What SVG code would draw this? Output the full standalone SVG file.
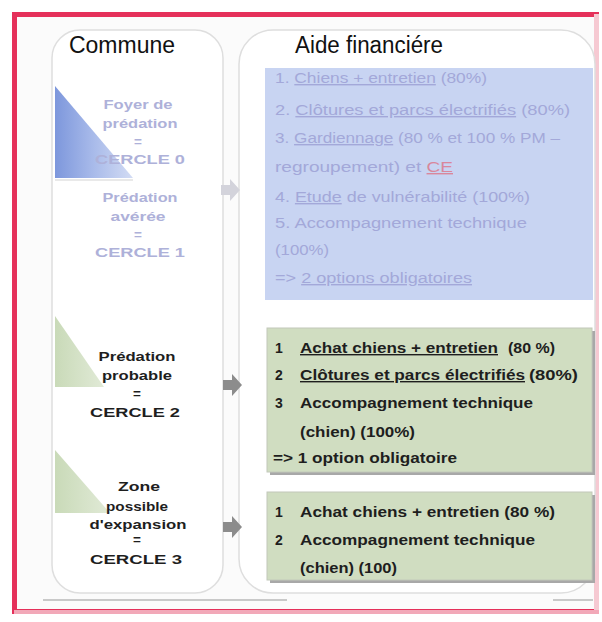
<svg xmlns="http://www.w3.org/2000/svg" width="602" height="622" viewBox="0 0 602 622">
<defs>
  <linearGradient id="gBlue" x1="0" y1="0" x2="1" y2="0">
    <stop offset="0" stop-color="#7d97dc"/>
    <stop offset="0.5" stop-color="#a9bbea"/>
    <stop offset="1" stop-color="#d3dcf4"/>
  </linearGradient>
  <linearGradient id="gGreen" x1="0" y1="0" x2="1" y2="0">
    <stop offset="0" stop-color="#c9dab8"/>
    <stop offset="1" stop-color="#e1ead7"/>
  </linearGradient>
  <path id="arr" d="M0,-5 H9 V-11 L19,0 L9,11 V5 H0 Z"/>
</defs>
<style>
  text{font-family:"Liberation Sans",Arial,sans-serif}
  .title{font-size:23px;fill:#111111}
  .g{font-size:14px;font-weight:bold;fill:#1e1e1e}
  .c{font-size:13.5px;font-weight:bold;fill:#1e1e1e;text-anchor:middle}
  .f{font-size:13.5px;font-weight:bold;fill:#aeb1d9;text-anchor:middle}
  .b{font-size:14px;fill:#a3a8d9}
  .u{text-decoration:underline}
  .panel{fill:#ffffff;stroke:#dedede;stroke-width:1.5}
  .shadow{fill:#a8a8a8}
  .gbox{fill:#d0ddc1;stroke:#c2c8ba;stroke-width:1}
</style>
<rect x="0" y="0" width="602" height="622" fill="#ffffff"/>
<!-- red frame -->
<rect x="14.5" y="14.5" width="582" height="597" fill="#fbfbfb" stroke="#e5305a" stroke-width="5"/>
<rect x="594" y="14" width="5" height="600" fill="#f6c9d2"/>
<rect x="14" y="610" width="585" height="4" fill="#f2a8b8"/>

<!-- panels -->
<g id="panel-commune">
  <rect class="panel" x="52" y="30" width="171" height="563" rx="28"/>
  <text class="title" x="122" y="53" text-anchor="middle" textLength="106" lengthAdjust="spacingAndGlyphs">Commune</text>
</g>
<g id="panel-aide">
  <rect class="panel" x="239" y="30" width="356" height="563" rx="34"/>
  <text class="title" x="369" y="53" text-anchor="middle" textLength="148" lengthAdjust="spacingAndGlyphs">Aide financiére</text>
</g>
<line x1="43" y1="600" x2="287" y2="600" stroke="#b9b9b9" stroke-width="1.5"/>
<line x1="553" y1="600" x2="593" y2="600" stroke="#b9b9b9" stroke-width="1.5"/>

<!-- cercle 0 / 1 -->
<g id="cercle01">
  <polygon points="55,86 55,178 133,178" fill="url(#gBlue)"/>
  <line x1="55" y1="180" x2="133" y2="180" stroke="#e2e2e2" stroke-width="1.5"/>
  <text class="f" x="138" y="109" textLength="69" lengthAdjust="spacingAndGlyphs">Foyer de</text>
  <text class="f" x="140" y="128" textLength="75" lengthAdjust="spacingAndGlyphs">prédation</text>
  <text class="f" x="138" y="146">=</text>
  <text class="f" x="140" y="164" textLength="90" lengthAdjust="spacingAndGlyphs">CERCLE 0</text>
  <text class="f" x="140" y="202" textLength="75" lengthAdjust="spacingAndGlyphs">Prédation</text>
  <text class="f" x="138" y="221" textLength="55" lengthAdjust="spacingAndGlyphs">avérée</text>
  <text class="f" x="138" y="239">=</text>
  <text class="f" x="140" y="257" textLength="90" lengthAdjust="spacingAndGlyphs">CERCLE 1</text>
</g>

<!-- cercle 2 -->
<g id="cercle2">
  <polygon points="55,316 55,387 104,387" fill="url(#gGreen)"/>
  <text class="c" x="137" y="361" textLength="77" lengthAdjust="spacingAndGlyphs">Prédation</text>
  <text class="c" x="137" y="380" textLength="70" lengthAdjust="spacingAndGlyphs">probable</text>
  <text class="c" x="137" y="398">=</text>
  <text class="c" x="135" y="417" textLength="90" lengthAdjust="spacingAndGlyphs">CERCLE 2</text>
</g>

<!-- cercle 3 -->
<g id="cercle3">
  <polygon points="55,450 55,513 110,513" fill="url(#gGreen)"/>
  <text class="c" x="139" y="491" textLength="42" lengthAdjust="spacingAndGlyphs">Zone</text>
  <text class="c" x="137" y="511" textLength="62" lengthAdjust="spacingAndGlyphs">possible</text>
  <text class="c" x="138" y="529" textLength="97" lengthAdjust="spacingAndGlyphs">d'expansion</text>
  <text class="c" x="137" y="544">=</text>
  <text class="c" x="136" y="564" textLength="92" lengthAdjust="spacingAndGlyphs">CERCLE 3</text>
</g>

<!-- aide cercle 0/1 -->
<g id="aide01">
  <rect x="265" y="68" width="328" height="232" fill="#c8d4f2"/>
  <text class="b" x="275" y="83" textLength="212" lengthAdjust="spacingAndGlyphs">1. <tspan class="u">Chiens + entretien</tspan> (80%)</text>
  <text class="b" x="275" y="115" textLength="295" lengthAdjust="spacingAndGlyphs">2. <tspan class="u">Clôtures et parcs électrifiés</tspan> (80%)</text>
  <text class="b" x="275" y="143" textLength="285" lengthAdjust="spacingAndGlyphs">3. <tspan class="u">Gardiennage</tspan> (80 % et 100 % PM –</text>
  <text class="b" x="275" y="172" textLength="178" lengthAdjust="spacingAndGlyphs">regroupement) et <tspan class="u" fill="#d9879c">CE</tspan></text>
  <text class="b" x="275" y="202" textLength="255" lengthAdjust="spacingAndGlyphs">4. <tspan class="u">Etude</tspan> de vulnérabilité (100%)</text>
  <text class="b" x="275" y="228" textLength="252" lengthAdjust="spacingAndGlyphs">5. Accompagnement technique</text>
  <text class="b" x="275" y="255" textLength="54" lengthAdjust="spacingAndGlyphs">(100%)</text>
  <text class="b" x="275" y="283" textLength="197" lengthAdjust="spacingAndGlyphs">=&gt; <tspan class="u">2 options obligatoires</tspan></text>
</g>

<!-- aide cercle 2 -->
<g id="aide2">
  <rect class="shadow" x="270" y="331" width="325" height="144"/>
  <rect class="gbox" x="267" y="328" width="325" height="144"/>
  <text class="g" x="275" y="353">1</text>
  <text class="g u" x="300" y="353" textLength="198" lengthAdjust="spacingAndGlyphs">Achat chiens + entretien</text>
  <text class="g" x="508" y="353" textLength="47" lengthAdjust="spacingAndGlyphs">(80 %)</text>
  <text class="g" x="275" y="380">2</text>
  <text class="g u" x="300" y="380" textLength="225" lengthAdjust="spacingAndGlyphs">Clôtures et parcs électrifiés</text>
  <text class="g" x="529" y="380" textLength="49" lengthAdjust="spacingAndGlyphs">(80%)</text>
  <text class="g" x="275" y="408">3</text>
  <text class="g" x="300" y="408" textLength="233" lengthAdjust="spacingAndGlyphs">Accompagnement technique</text>
  <text class="g" x="300" y="437" textLength="115" lengthAdjust="spacingAndGlyphs">(chien) (100%)</text>
  <text class="g" x="273" y="463" textLength="184" lengthAdjust="spacingAndGlyphs">=&gt; 1 option obligatoire</text>
</g>

<!-- aide cercle 3 -->
<g id="aide3">
  <rect class="shadow" x="270" y="495" width="325" height="88"/>
  <rect class="gbox" x="267" y="492" width="325" height="88"/>
  <text class="g" x="275" y="517">1</text>
  <text class="g" x="300" y="517" textLength="255" lengthAdjust="spacingAndGlyphs">Achat chiens + entretien (80 %)</text>
  <text class="g" x="275" y="545">2</text>
  <text class="g" x="300" y="545" textLength="235" lengthAdjust="spacingAndGlyphs">Accompagnement technique</text>
  <text class="g" x="300" y="573" textLength="97" lengthAdjust="spacingAndGlyphs">(chien) (100)</text>
</g>

<!-- connectors -->
<g id="connectors">
  <use href="#arr" x="221" y="190" fill="#d3d3db"/>
  <use href="#arr" x="223" y="385" fill="#8c8c8c"/>
  <use href="#arr" x="223" y="527" fill="#8c8c8c"/>
</g>
</svg>
